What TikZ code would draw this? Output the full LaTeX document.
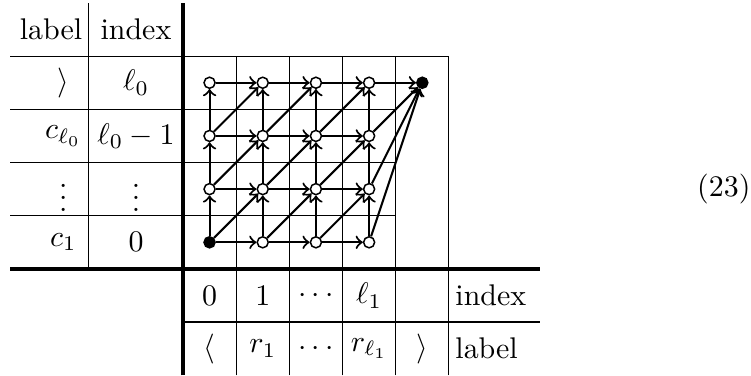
\documentclass[tikz,border=0pt]{standalone}
\begin{document}
\begin{tikzpicture}[x=0.625cm,y=0.625cm,
  vtx/.style={circle,draw,fill=white,inner sep=0pt,minimum size=3.7pt,line width=0.5pt},
  txt/.style={inner sep=1pt},
  arr/.style={->,line width=0.7pt}]
\useasboundingbox (-3.44,-2.011) rectangle (10.68,5.056);
% Table rules
\foreach \y in {1,2,3} \draw[thin] (-3.25,\y) -- (4,\y);
\draw[thin] (-3.25,4) -- (5,4);
\foreach \x in {1,...,5} \draw[thin] (\x,-2) -- (\x,4);
\draw[thin] (-1.776,0) -- (-1.776,5);
\draw[thin] (0,-1) -- (6.71,-1);
\draw[line width=1.3pt] (0,-2) -- (0,5);
\draw[line width=1.3pt] (-3.25,0) -- (6.71,0);
% Left table: label and index of each row
\node[txt] (hlab) at (-2.48,4.5) {label};
\node[txt] (hidx) at (-0.883,4.5) {index};
\foreach \lab/\idx [count=\r] in {{$\rangle$}/{$\ell_0$}, {$c_{\ell_0}$}/{$\ell_0-1$}, {$\vdots$}/{$\vdots$}, {$c_1$}/{$0$}}{
  \node[txt] (lab\r) at (-2.25,4.5-\r) {\lab};
  \node[txt] (idx\r) at (-0.883,4.5-\r) {\idx};
}
% Bottom table: index and label of each column
\foreach \t [count=\c] in {$0$,$1$,$\cdots$,$\ell_1$}
  \node[txt] (ix\c) at (\c-0.5,-0.5) {\t};
\foreach \t [count=\c] in {$\langle$,$r_1$,$\cdots$,$r_{\ell_1}$,$\rangle$}
  \node[txt] (lb\c) at (\c-0.5,-1.5) {\t};
\node[anchor=west,inner sep=2pt] (ixname) at (5,-0.5) {index};
\node[anchor=west,inner sep=2pt] (lbname) at (5,-1.5) {label};
% Vertices (start filled)
\foreach \i in {0,...,3}
  \foreach \j in {0,...,3}{
    \ifnum\i\j=0
      \node[vtx,fill=black] (v\i\j) at (\i+0.5,\j+0.5) {};
    \else
      \node[vtx] (v\i\j) at (\i+0.5,\j+0.5) {};
    \fi
  }
\node[vtx,fill=black] (fin) at (4.5,3.5) {};
% Horizontal, vertical and diagonal steps
\foreach \i in {0,1,2}
  \foreach \j in {0,...,3}{
    \pgfmathtruncatemacro\k{\i+1}
    \draw[arr] (v\i\j) -- (v\k\j);
  }
\foreach \i in {0,...,3}
  \foreach \j in {0,1,2}{
    \pgfmathtruncatemacro\m{\j+1}
    \draw[arr] (v\i\j) -- (v\i\m);
  }
\foreach \i in {0,1,2}
  \foreach \j in {0,1,2}{
    \pgfmathtruncatemacro\k{\i+1}
    \pgfmathtruncatemacro\m{\j+1}
    \draw[arr] (v\i\j) -- (v\k\m);
  }
% Last column into the end vertex
\foreach \j in {0,...,3} \draw[arr] (v3\j) -- (fin);
\node[anchor=east,inner sep=0pt] (eqno) at (10.68,1.5) {(23)};
\end{tikzpicture}
\end{document}
